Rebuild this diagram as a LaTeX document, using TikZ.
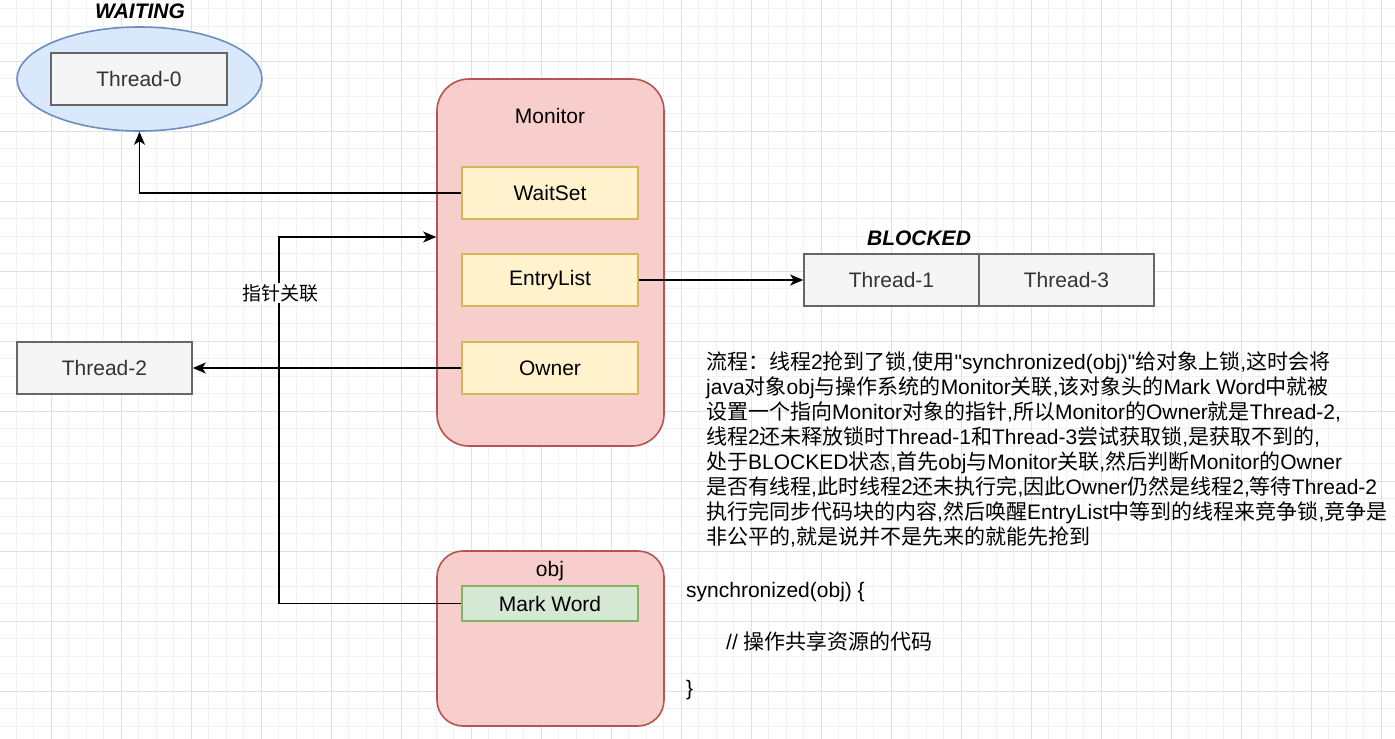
\documentclass[tikz,border=0pt]{standalone}
\usepackage{fontspec}
\setmainfont{Liberation Sans}
\newfontfamily\cjkfont{Noto Sans CJK SC}
\newcommand\zh[1]{{\cjkfont #1}}
\usetikzlibrary{arrows.meta,shapes.geometric}
\definecolor{gridminor}{HTML}{F1F1F1}
\definecolor{gridmajor}{HTML}{E0E0E0}
\definecolor{thrfill}{HTML}{F5F5F5}
\definecolor{thrline}{HTML}{666666}
\definecolor{thrtext}{HTML}{333333}
\definecolor{redfill}{HTML}{F8CECC}
\definecolor{redline}{HTML}{B85450}
\definecolor{yelfill}{HTML}{FFF2CC}
\definecolor{yelline}{HTML}{D6B656}
\definecolor{grnfill}{HTML}{D5E8D4}
\definecolor{grnline}{HTML}{82B366}
\definecolor{blufill}{HTML}{DAE8FC}
\definecolor{bluline}{HTML}{6C8EBF}
\begin{document}
\begin{tikzpicture}[x=1pt,y=-1pt,
  every node/.style={font=\fontsize{21}{25}\selectfont, inner sep=0pt},
  thread/.style={draw=thrline, fill=thrfill, text=thrtext, line width=1.6pt, minimum width=175pt, minimum height=52pt},
  field/.style={draw=yelline, fill=yelfill, line width=1.6pt, minimum width=176pt, minimum height=52pt},
  container/.style={draw=redline, fill=redfill, line width=1.6pt, minimum width=227pt},
  state/.style={font=\fontsize{21}{25}\selectfont\bfseries\itshape},
  arr/.style={line width=1.6pt, -{Stealth[length=13pt,width=11pt,inset=3.5pt]}},
  plainline/.style={line width=1.6pt}]
\useasboundingbox (0,0) rectangle (1395,739);
\fill[white] (0,0) rectangle (1395,739);
% grid
\foreach \i in {0,...,79} {\draw[gridminor, line width=1pt] ({16.3+17.5*\i},0) -- ({16.3+17.5*\i},739);}
\foreach \i in {0,...,42} {\draw[gridminor, line width=1pt] (0,{8.8+17.5*\i}) -- (1395,{8.8+17.5*\i});}
\foreach \i in {0,...,20} {\draw[gridmajor, line width=1pt] ({-18.7+70*\i},0) -- ({-18.7+70*\i},739);}
\foreach \i in {0,...,10} {\draw[gridmajor, line width=1pt] (0,{-8.7+70*\i}) -- (1395,{-8.7+70*\i});}

% WAITING
\node[ellipse, draw=bluline, fill=blufill, line width=1.6pt, minimum width=245pt, minimum height=104pt] (waiting) at (139.5,79) {};
\node[thread, minimum width=176pt] (t0) at (139,79) {Thread-0};
\node[state] (waitlbl) at (140,11) {WAITING};

% Monitor
\node[container, rounded corners=32pt, minimum height=367pt] (monitor) at (550.5,262.5) {};
\node (montitle) at (550,116) {Monitor};
\node[field] (waitset) at (550,193) {WaitSet};
\node[field] (entrylist) at (550,280) {EntryList};
\node[field] (owner) at (550,368) {Owner};

% BLOCKED
\node[state] (blocklbl) at (919,238) {BLOCKED};
\node[thread] (t1) at (891.5,280) {Thread-1};
\node[thread] (t3) at (1066.5,280) {Thread-3};

% Thread-2
\node[thread] (t2) at (104.5,368) {Thread-2};

% obj
\node[container, rounded corners=26pt, minimum height=175pt] (obj) at (550.5,638.5) {};
\node (objtitle) at (550,571) {obj};
\node[draw=grnline, fill=grnfill, line width=1.6pt, minimum width=176pt, minimum height=35pt] (markword) at (550,603.5) {Mark Word};

% connectors
\draw[arr] (waitset.west) -| (waiting.south);
\draw[arr] (entrylist.east) -- (t1.west);
\draw[arr] (owner.west) -- (t2.east);
\coordinate (bend) at (279,237);
\draw[arr] (markword.west) -| (bend) -- (bend -| monitor.west);
\node[fill=white, inner sep=1pt, font=\fontsize{19}{19}\selectfont\cjkfont] (ptrlbl) at (280,293) {指针关联};

% description
\node[anchor=north west, align=left] (desc) at (706,351.5) {%
\zh{流程：线程}2\zh{抢到了锁},\zh{使用}\textquotedbl synchronized(obj)\textquotedbl\zh{给对象上锁},\zh{这时会将}\\
java\zh{对象}obj\zh{与操作系统的}Monitor\zh{关联},\zh{该对象头的}Mark Word\zh{中就被}\\
\zh{设置一个指向}Monitor\zh{对象的指针},\zh{所以}Monitor\zh{的}Owner\zh{就是}Thread-2,\\
\zh{线程}2\zh{还未释放锁时}Thread-1\zh{和}Thread-3\zh{尝试获取锁},\zh{是获取不到的},\\
\zh{处于}BLOCKED\zh{状态},\zh{首先}obj\zh{与}Monitor\zh{关联},\zh{然后判断}Monitor\zh{的}Owner\\
\zh{是否有线程},\zh{此时线程}2\zh{还未执行完},\zh{因此}Owner\zh{仍然是线程}2,\zh{等待}Thread-2\\
\zh{执行完同步代码块的内容},\zh{然后唤醒}EntryList\zh{中等到的线程来竞争锁},\zh{竞争是}\\
\zh{非公平的},\zh{就是说并不是先来的就能先抢到}};

% code
\node[anchor=west] (code1) at (686,592) {synchronized(obj) \{};
\node[anchor=west] (code2) at (726,641) {// \zh{操作共享资源的代码}};
\node[anchor=west] (code3) at (686,690) {\}};
\end{tikzpicture}
\end{document}
